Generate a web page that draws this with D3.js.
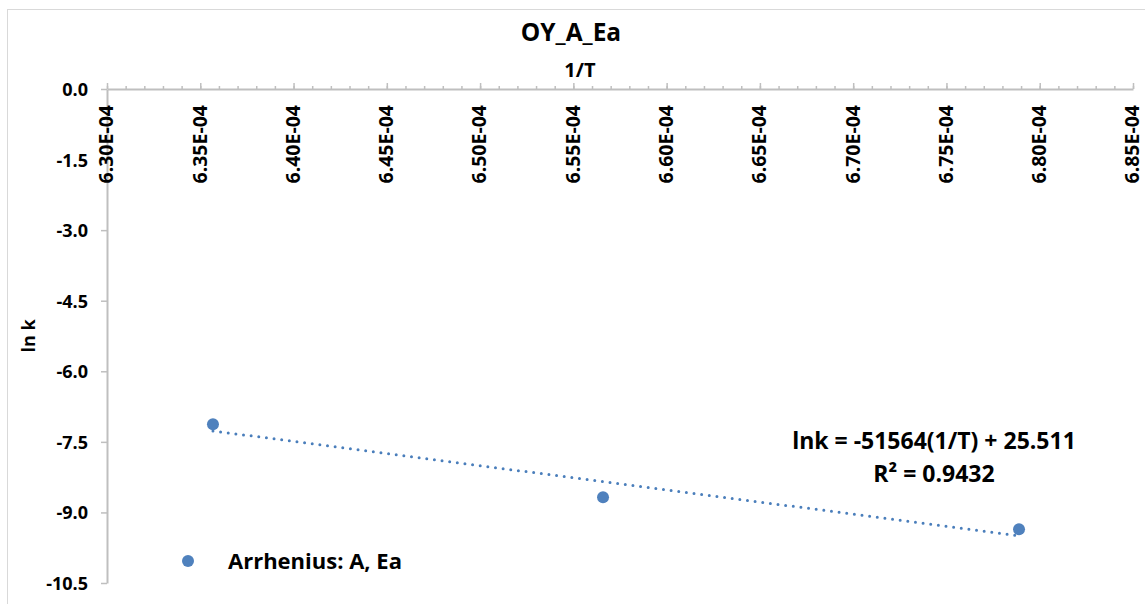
<!DOCTYPE html>
<html>
<head>
<meta charset="utf-8">
<script src="https://cdn.jsdelivr.net/npm/d3@7"></script>
<style>
  html, body { margin: 0; padding: 0; background: #fff; }
  svg { display: block; }
  text { font-family: "Open Sans", Lato, sans-serif; font-weight: bold; fill: #000; }
</style>
</head>
<body>
<svg id="chart" width="1145" height="604"></svg>
<script>
// Arrhenius data: inverse temperature vs. natural log of rate constant
const invT = [6.3568e-4, 6.5659e-4, 6.7889e-4];
const lnk = [-7.127, -8.679, -9.359];

// Linear trendline coefficients (lnk = slope * (1/T) + intercept)
const trendSlope = -51564;
const trendIntercept = 25.511;
const trendR2 = 0.9432;

// Axis ticks
const xTicks = [6.30e-4, 6.35e-4, 6.40e-4, 6.45e-4, 6.50e-4, 6.55e-4, 6.60e-4, 6.65e-4, 6.70e-4, 6.75e-4, 6.80e-4, 6.85e-4];
const xTickLabels = ["6.30E-04", "6.35E-04", "6.40E-04", "6.45E-04", "6.50E-04", "6.55E-04", "6.60E-04", "6.65E-04", "6.70E-04", "6.75E-04", "6.80E-04", "6.85E-04"];
const xMinorStep = 1e-6;
const yTicks = [0, -1.5, -3, -4.5, -6, -7.5, -9, -10.5];
const yTickLabels = ["0.0", "-1.5", "-3.0", "-4.5", "-6.0", "-7.5", "-9.0", "-10.5"];

const chartTitle = "OY_A_Ea";
const xTitle = "1/T";
const yTitle = "ln k";
const seriesName = "Arrhenius: A, Ea";

const blue = "#4f81bd";
const axisGray = "#bfbfbf";
const font = "'Open Sans', Lato, sans-serif";

const svg = d3.select("#chart");

// chart frame
svg.append("rect")
  .attr("x", 7.5).attr("y", 9.5)
  .attr("width", 1160).attr("height", 620)
  .attr("fill", "none").attr("stroke", "#d9d9d9").attr("stroke-width", 1);

const x = d3.scaleLinear().domain([xTicks[0], xTicks[xTicks.length - 1]]).range([107, 1133]);
const y = d3.scaleLinear().domain([0, -10.5]).range([89, 583]);

// minor ticks on the x axis
const minorVals = d3.range(0, Math.round((xTicks[xTicks.length - 1] - xTicks[0]) / xMinorStep) + 1)
  .map(i => xTicks[0] + i * xMinorStep);
const xMinor = svg.append("g").attr("transform", `translate(0,${y(0)})`)
  .call(d3.axisTop(x).tickValues(minorVals).tickSize(3).tickFormat(""));
xMinor.select(".domain").remove();
xMinor.selectAll("line").attr("stroke", axisGray).attr("stroke-width", 1.5);

// y axis
const yAxis = svg.append("g").attr("transform", `translate(${x(xTicks[0])},0)`)
  .call(d3.axisLeft(y).tickValues(yTicks).tickSizeInner(6).tickSizeOuter(0)
    .tickFormat((d, i) => yTickLabels[i]));
yAxis.select(".domain").attr("stroke", axisGray).attr("stroke-width", 2);
yAxis.selectAll("line").attr("stroke", axisGray).attr("stroke-width", 1.5);
yAxis.selectAll("text")
  .attr("x", -19).attr("dy", "0.36em")
  .style("font-size", "18px").style("font-family", font)
  .style("font-weight", "bold").attr("fill", "#000");

// x axis along the top (y = 0)
const xAxis = svg.append("g").attr("transform", `translate(0,${y(0)})`)
  .call(d3.axisTop(x).tickValues(xTicks).tickSizeInner(6).tickSizeOuter(0)
    .tickFormat((d, i) => xTickLabels[i]));
xAxis.select(".domain").attr("stroke", axisGray).attr("stroke-width", 2);
xAxis.selectAll("line").attr("stroke", axisGray).attr("stroke-width", 1.5);
xAxis.selectAll("text")
  .attr("transform", "rotate(-90)")
  .attr("x", -16).attr("y", 0).attr("dy", "0.3em")
  .attr("text-anchor", "end")
  .style("font-size", "19.5px").style("font-family", font)
  .style("font-weight", "bold").attr("fill", "#000");

// titles
svg.append("text").attr("x", 571).attr("y", 32).attr("dy", "0.36em")
  .attr("text-anchor", "middle").style("font-size", "24.5px").text(chartTitle);
svg.append("text").attr("x", 580).attr("y", 70).attr("dy", "0.36em")
  .attr("text-anchor", "middle").style("font-size", "20px").text(xTitle);
svg.append("text").attr("transform", `translate(29,${(y(0) + y(-10.5)) / 2}) rotate(-90)`)
  .attr("dy", "0.36em").attr("text-anchor", "middle").style("font-size", "18px").text(yTitle);

// dotted linear trendline
const xMin = d3.min(invT), xMax = d3.max(invT);
const trend = [xMin, xMax].map(v => [v, trendSlope * v + trendIntercept]);
svg.append("path")
  .attr("d", d3.line().x(d => x(d[0])).y(d => y(d[1]))(trend))
  .attr("fill", "none").attr("stroke", "#4a7ebb").attr("stroke-width", 3)
  .attr("stroke-linecap", "round").attr("stroke-dasharray", "0 7.7");

// data points
svg.append("g").selectAll("circle")
  .data(invT.map((v, i) => [v, lnk[i]]))
  .join("circle")
  .attr("cx", d => x(d[0])).attr("cy", d => y(d[1])).attr("r", 6)
  .attr("fill", blue);

// trendline equation
const eq = svg.append("text").attr("text-anchor", "middle").style("font-size", "23px");
eq.append("tspan").attr("x", 934).attr("y", 449)
  .text(`lnk = ${trendSlope}(1/T) + ${trendIntercept}`);
eq.append("tspan").attr("x", 934).attr("y", 482)
  .text(`R² = ${trendR2}`);

// legend
svg.append("circle").attr("cx", 188).attr("cy", 561).attr("r", 6).attr("fill", blue);
svg.append("text").attr("x", 228).attr("y", 561).attr("dy", "0.36em")
  .style("font-size", "22px").text(seriesName);
</script>
</body>
</html>
